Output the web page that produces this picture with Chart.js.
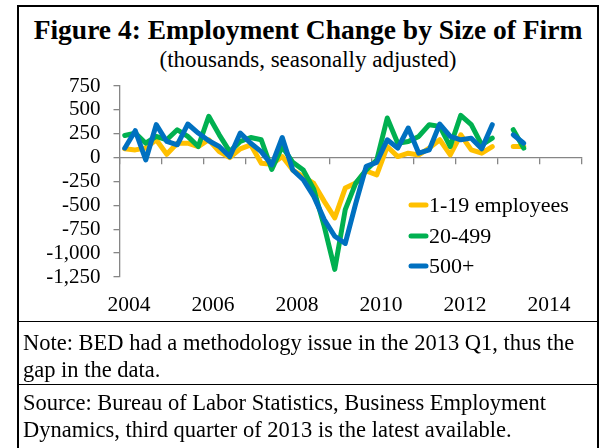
<!DOCTYPE html>
<html>
<head>
<meta charset="utf-8">
<script src="https://cdn.jsdelivr.net/npm/chart.js@4.4.1/dist/chart.umd.min.js"></script>
<style>
  body { margin: 0; background: #fff; }
  #wrap { position: relative; width: 610px; height: 448px; overflow: hidden; font-family: "Liberation Serif", "Times New Roman", serif; color: #000; }
  #frame { position: absolute; left: 17px; top: 5px; width: 582px; height: 470px; border: 2px solid #000; box-sizing: border-box; }
  .rule { position: absolute; left: 17px; width: 582px; height: 0; border-top: 1.5px solid #000; }
  #title { position: absolute; left: 17px; width: 582px; top: 14px; text-align: center; font-weight: bold; font-size: 27.5px; }
  #subtitle { position: absolute; left: 17px; width: 582px; top: 47px; text-align: center; font-size: 23px; }
  .note { position: absolute; left: 23px; font-size: 22.5px; line-height: 27px; white-space: nowrap; }
  canvas { position: absolute; left: 0; top: 0; }
</style>
</head>
<body>
<div id="wrap">
  <div id="frame"></div>
  <div id="title">Figure 4: Employment Change by Size of Firm</div>
  <div id="subtitle">(thousands, seasonally adjusted)</div>
  <canvas id="chart" width="610" height="448"></canvas>
  <div class="rule" style="top:321px"></div>
  <div class="note" style="top:329px">Note: BED had a methodology issue in the 2013 Q1, thus the<br>gap in the data.</div>
  <div class="rule" style="top:384px"></div>
  <div class="note" style="top:389px">Source: Bureau of Labor Statistics, Business Employment<br>Dynamics, third quarter of 2013 is the latest available.</div>
</div>
<script>
const quarters = [
  '2004Q1','2004Q2','2004Q3','2004Q4','2005Q1','2005Q2','2005Q3','2005Q4',
  '2006Q1','2006Q2','2006Q3','2006Q4','2007Q1','2007Q2','2007Q3','2007Q4',
  '2008Q1','2008Q2','2008Q3','2008Q4','2009Q1','2009Q2','2009Q3','2009Q4',
  '2010Q1','2010Q2','2010Q3','2010Q4','2011Q1','2011Q2','2011Q3','2011Q4',
  '2012Q1','2012Q2','2012Q3','2012Q4','2013Q1','2013Q2','2013Q3'
];

// thousands, seasonally adjusted (2013Q1 missing)
const small = [92, 81, 100, 187, 35, 151, 151, 116, 187, 63, 0, 92, 134, -60, -70, 11,
  -130, -200, -270, -458, -631, -319, -267, -140, -180, 116, 11, 46, 28, 99, 187, 28,
  239, 81, 46, 116, null, 116, 116];
const mid = [232, 257, 151, 222, 187, 292, 222, 116, 433, 239, 63, 169, 211, 187, -123, 116,
  -49, -130, -330, -720, -1170, -545, -267, -128, -25, 415, 151, 169, 222, 345, 327, 116,
  443, 345, 134, 204, null, 292, 99];
const large = [99, 282, -25, 345, 169, 134, 352, 257, 176, 116, 10, 257, 151, 63, -77, 211,
  -130, -232, -406, -649, -823, -899, -480, -90, -49, 187, 99, 310, 46, 81, 352, 222,
  187, 204, 92, 345, null, 239, 151];

const seriesNames = ['1-19 employees', '20-499', '500+'];
const seriesColors = ['#FFC000', '#00B050', '#0070C0'];
const yearLabels = ['2004', '2006', '2008', '2010', '2012', '2014'];
const yMin = -1250, yMax = 750, yStep = 250;

const toPoints = arr => arr.map((v, i) => ({ x: i, y: v }));

const legendPlugin = {
  id: 'innerLegend',
  afterDraw(chart) {
    const ctx = chart.ctx;
    const rows = [205, 236, 266];
    ctx.save();
    ctx.font = '22px "Liberation Serif"';
    ctx.textBaseline = 'middle';
    ctx.fillStyle = '#000';
    chart.data.datasets.forEach((ds, i) => {
      ctx.strokeStyle = ds.borderColor;
      ctx.lineWidth = 5;
      ctx.lineCap = 'round';
      ctx.beginPath();
      ctx.moveTo(411, rows[i]);
      ctx.lineTo(426, rows[i]);
      ctx.stroke();
      ctx.fillText(ds.label, 429, rows[i] + 1);
    });
    ctx.restore();
  }
};

const datasets = [small, mid, large].map((arr, i) => ({
  label: seriesNames[i],
  data: toPoints(arr),
  borderColor: seriesColors[i],
  backgroundColor: seriesColors[i],
  borderWidth: 5,
  pointRadius: 0,
  tension: 0,
  spanGaps: false,
  borderJoinStyle: 'round',
  borderCapStyle: 'round',
  order: 3 - i
}));

new Chart(document.getElementById('chart'), {
  type: 'line',
  data: { datasets },
  plugins: [legendPlugin],
  options: {
    responsive: false,
    animation: false,
    layout: { padding: { left: 20, top: 86, right: 28.5, bottom: 131 } },
    plugins: { legend: { display: false }, tooltip: { enabled: false } },
    scales: {
      x: {
        type: 'linear',
        min: -0.5,
        max: 43.5,
        afterBuildTicks: s => { s.ticks = yearLabels.map((_, k) => ({ value: -0.5 + 8 * k })); },
        afterFit: s => { s.height = 40; },
        grid: { display: false },
        border: { display: false },
        ticks: {
          color: '#000',
          font: { family: 'Liberation Serif', size: 21.5 },
          padding: 7,
          maxRotation: 0,
          autoSkip: false,
          labelOffset: 9.5,
          callback: (v, idx) => yearLabels[idx]
        }
      },
      x2: {
        type: 'linear',
        position: { y: 0 },
        min: -0.5,
        max: 43.5,
        afterBuildTicks: s => {
          const t = [];
          for (let v = -0.5; v <= 43.5; v += 4) t.push({ value: v });
          s.ticks = t;
        },
        grid: { drawOnChartArea: false, drawTicks: true, tickLength: 6, color: '#868686', lineWidth: 1.3 },
        border: { color: '#868686', width: 1.3 },
        ticks: { display: false }
      },
      y: {
        type: 'linear',
        min: yMin,
        max: yMax,
        afterFit: s => { s.width = 99.5; },
        grid: { drawOnChartArea: false, tickLength: 6, color: '#868686', lineWidth: 1.3 },
        border: { color: '#868686', width: 1.3 },
        ticks: {
          stepSize: yStep,
          autoSkip: false,
          color: '#000',
          padding: 13,
          font: { family: 'Liberation Serif', size: 21 }
        }
      }
    }
  }
});
</script>
</body>
</html>
